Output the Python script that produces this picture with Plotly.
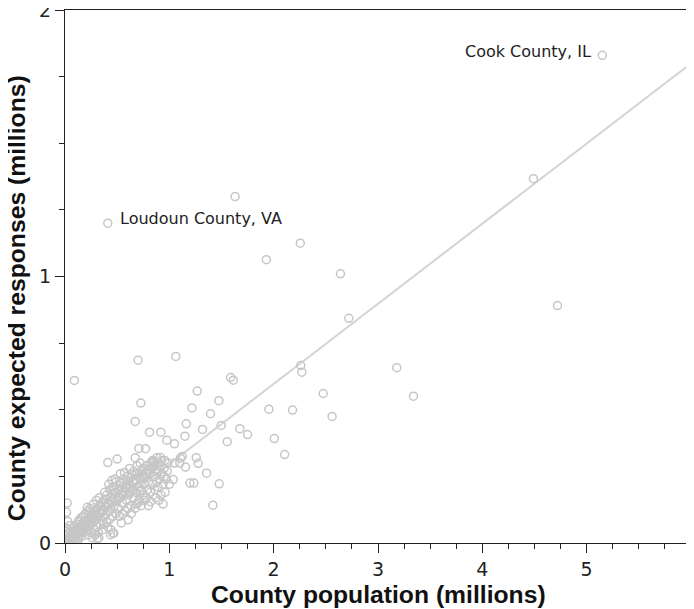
import plotly.graph_objects as go

# ---- Data (millions) ----
# Labelled / outlying counties
outlier_population = [5.15, 0.41, 1.63, 1.93, 2.255, 2.64, 4.49, 4.72, 2.72, 3.18, 3.34, 2.475,
                      2.56, 2.26, 2.27, 1.587, 1.613, 0.70, 1.062, 0.09, 1.267, 1.475, 1.216,
                      1.395, 1.162, 1.149, 1.318, 1.497, 1.676, 1.75, 1.555, 1.954, 2.181, 2.006,
                      2.105, 1.124, 1.258, 1.277, 1.155, 1.357, 1.235, 1.478, 1.417, 0.727, 0.673,
                      0.81, 0.919, 0.976, 1.05, 0.708, 0.772, 0.41, 0.50, 0.673, 0.839, 0.913,
                      1.107, 1.05, 1.037, 0.94, 0.80, 0.68, 0.635, 0.606, 0.458, 0.309, 0.213,
                      0.021, 0.014, 0.046, 0.132, 0.027, 0.014, 0.436, 0.468, 0.324]
outlier_responses = [1.83, 1.20, 1.30, 1.063, 1.125, 1.01, 1.367, 0.891, 0.843, 0.658, 0.551, 0.561,
                     0.475, 0.666, 0.641, 0.621, 0.611, 0.686, 0.70, 0.61, 0.570, 0.534, 0.507,
                     0.485, 0.447, 0.401, 0.426, 0.441, 0.429, 0.407, 0.380, 0.502, 0.499, 0.392,
                     0.332, 0.325, 0.320, 0.299, 0.285, 0.262, 0.225, 0.222, 0.142, 0.525, 0.456,
                     0.416, 0.416, 0.386, 0.372, 0.355, 0.354, 0.302, 0.315, 0.32, 0.306, 0.321,
                     0.319, 0.30, 0.238, 0.146, 0.14, 0.145, 0.11, 0.087, 0.037, 0.015, 0.134,
                     0.15, 0.115, 0.066, 0.081, 0.081, 0.044, 0.031, 0.037, 0.019]

# Dense cluster of smaller counties
cluster_population = [
    0.005, 0.01, 0.015, 0.02, 0.025, 0.03, 0.035, 0.04, 0.045, 0.05, 0.055, 0.06, 0.065, 0.07, 0.075,
    0.08, 0.085, 0.09, 0.095, 0.1, 0.012, 0.03, 0.05, 0.07, 0.09, 0.02, 0.04, 0.06, 0.08, 0.1,
    0.11, 0.12, 0.13, 0.14, 0.15, 0.16, 0.17, 0.18, 0.19, 0.2, 0.12, 0.14, 0.16, 0.18, 0.2,
    0.115, 0.135, 0.155, 0.175, 0.195, 0.22, 0.105, 0.125, 0.145, 0.165,
    0.21, 0.22, 0.23, 0.24, 0.25, 0.26, 0.27, 0.28, 0.29, 0.3, 0.31, 0.32, 0.33, 0.34, 0.35,
    0.22, 0.25, 0.28, 0.31, 0.34, 0.24, 0.27, 0.3, 0.33, 0.26, 0.29, 0.32, 0.35,
    0.36, 0.37, 0.38, 0.39, 0.4, 0.41, 0.42, 0.43, 0.44, 0.45, 0.46, 0.47, 0.48, 0.49, 0.5,
    0.37, 0.4, 0.43, 0.46, 0.49, 0.38, 0.42, 0.45, 0.48, 0.36, 0.41, 0.44, 0.39, 0.47,
    0.51, 0.52, 0.53, 0.54, 0.55, 0.56, 0.57, 0.58, 0.59, 0.6, 0.61, 0.62, 0.63, 0.64, 0.65,
    0.52, 0.55, 0.58, 0.6, 0.53, 0.57, 0.62, 0.54, 0.56, 0.59,
    0.66, 0.67, 0.68, 0.69, 0.7, 0.71, 0.72, 0.73, 0.74, 0.75, 0.76, 0.77, 0.78, 0.79, 0.8,
    0.67, 0.7, 0.73, 0.76, 0.69, 0.72, 0.75, 0.78, 0.66,
    0.81, 0.82, 0.83, 0.84, 0.85, 0.86, 0.87, 0.88, 0.89, 0.9, 0.91, 0.92, 0.93, 0.94, 0.95,
    0.82, 0.86, 0.9, 0.84, 0.88, 0.97, 0.96, 0.98, 1.0,
    0.82, 0.836, 0.794, 0.813, 1.10, 1.197, 0.628, 0.714, 0.532, 0.58,
    # extra density along the band
    0.015, 0.035, 0.055, 0.075, 0.095, 0.115, 0.145, 0.175, 0.205, 0.235, 0.265, 0.295,
    0.325, 0.355, 0.385, 0.415, 0.445, 0.475, 0.505, 0.535, 0.565, 0.595, 0.625, 0.655,
    0.685, 0.715, 0.745, 0.775, 0.805, 0.835, 0.865, 0.895, 0.925, 0.955, 0.985,
    0.25, 0.3, 0.35, 0.45, 0.55, 0.65, 0.75, 0.85, 0.95, 0.62, 0.72, 0.88]
cluster_responses = [
    0.002, 0.006, 0.003, 0.012, 0.006, 0.015, 0.009, 0.02, 0.011, 0.024, 0.015, 0.03, 0.018, 0.035, 0.022,
    0.04, 0.026, 0.045, 0.03, 0.05, 0.025, 0.035, 0.045, 0.055, 0.065, 0.055, 0.004, 0.008, 0.012, 0.018,
    0.035, 0.05, 0.028, 0.06, 0.04, 0.07, 0.045, 0.075, 0.05, 0.085, 0.02, 0.03, 0.025, 0.04, 0.06,
    0.07, 0.085, 0.095, 0.1, 0.11, 0.12, 0.01, 0.012, 0.045, 0.055,
    0.07, 0.05, 0.09, 0.065, 0.1, 0.075, 0.11, 0.085, 0.12, 0.09, 0.13, 0.1, 0.14, 0.11, 0.15,
    0.03, 0.04, 0.05, 0.06, 0.07, 0.13, 0.145, 0.16, 0.17, 0.02, 0.03, 0.04, 0.085,
    0.12, 0.16, 0.1, 0.14, 0.18, 0.12, 0.15, 0.2, 0.13, 0.17, 0.21, 0.14, 0.19, 0.23, 0.16,
    0.07, 0.08, 0.09, 0.1, 0.11, 0.19, 0.22, 0.235, 0.24, 0.05, 0.06, 0.05, 0.165, 0.2,
    0.13, 0.2, 0.17, 0.225, 0.15, 0.24, 0.19, 0.21, 0.16, 0.25, 0.18, 0.22, 0.14, 0.26, 0.2,
    0.1, 0.11, 0.12, 0.13, 0.26, 0.265, 0.28, 0.075, 0.18, 0.23,
    0.17, 0.23, 0.19, 0.26, 0.21, 0.16, 0.24, 0.2, 0.27, 0.18, 0.22, 0.25, 0.29, 0.2, 0.23,
    0.13, 0.15, 0.14, 0.16, 0.29, 0.3, 0.28, 0.17, 0.27,
    0.26, 0.19, 0.28, 0.22, 0.3, 0.25, 0.17, 0.27, 0.21, 0.29, 0.24, 0.18, 0.26, 0.22, 0.28,
    0.155, 0.2, 0.16, 0.31, 0.32, 0.24, 0.19, 0.27, 0.22,
    0.30, 0.287, 0.275, 0.262, 0.30, 0.225, 0.244, 0.262, 0.225, 0.212,
    0.008, 0.018, 0.022, 0.03, 0.038, 0.042, 0.05, 0.062, 0.07, 0.08, 0.095, 0.105,
    0.115, 0.125, 0.135, 0.145, 0.155, 0.165, 0.175, 0.185, 0.195, 0.205, 0.215, 0.225,
    0.235, 0.245, 0.255, 0.265, 0.275, 0.285, 0.295, 0.3, 0.31, 0.31, 0.3,
    0.115, 0.125, 0.125, 0.185, 0.205, 0.235, 0.245, 0.285, 0.25, 0.19, 0.195, 0.23]

# Linear fit
fit_population = [0.0, 6.0]
fit_responses = [-0.005, 1.80]

# Labels
label_names = ["Cook County, IL", "Loudoun County, VA"]
label_population = [5.15, 0.41]
label_responses = [1.83, 1.20]

x_ticks = [0, 1, 2, 3, 4, 5, 6]
y_ticks = [0, 1, 2]

all_pop = cluster_population + outlier_population
all_resp = cluster_responses + outlier_responses

MARK = "rgb(198,198,198)"
LINE = "rgb(212,212,212)"

fig = go.Figure()
fig.add_trace(go.Scatter(x=fit_population, y=fit_responses, mode="lines",
                         line=dict(color=LINE, width=2), hoverinfo="skip", showlegend=False))
fig.add_trace(go.Scatter(x=all_pop, y=all_resp, mode="markers",
                         marker=dict(symbol="circle-open", size=8, color=MARK,
                                     line=dict(width=1.5, color=MARK)),
                         showlegend=False))

tickfont = dict(family="DejaVu Sans", size=19, color="#222")
axis_common = dict(showgrid=False, zeroline=False, showline=True, linecolor="#222",
                   linewidth=1.3, mirror=True, ticks="outside", ticklen=9, tickwidth=1.3,
                   tickcolor="#222", tickfont=tickfont, automargin=False,
                   ticklabeloverflow="allow")

fig.update_xaxes(range=[0, 6], tickvals=x_ticks, ticktext=[str(v) for v in x_ticks],
                 minor=dict(ticks="outside", ticklen=5, tickwidth=1.1, tickcolor="#222", dtick=0.25),
                 **axis_common)
fig.update_yaxes(range=[0, 2], tickvals=y_ticks, ticktext=[str(v) for v in y_ticks],
                 minor=dict(ticks="outside", ticklen=5, tickwidth=1.1, tickcolor="#222", dtick=0.25),
                 **axis_common)

annots = []
# point labels
annots.append(dict(x=label_population[0], y=label_responses[0], text=label_names[0],
                   xref="x", yref="y", showarrow=False, xanchor="right", yanchor="middle",
                   xshift=-9, yshift=4, font=dict(family="DejaVu Sans", size=16, color="#222")))
annots.append(dict(x=label_population[1], y=label_responses[1], text=label_names[1],
                   xref="x", yref="y", showarrow=False, xanchor="left", yanchor="middle",
                   xshift=10, yshift=5, font=dict(family="DejaVu Sans", size=16, color="#222")))
# axis titles
title_font = dict(family="Liberation Sans", size=24.7, color="#111", weight="bold")
annots.append(dict(x=0.5, y=-0.096, xref="paper", yref="paper", showarrow=False,
                   text="County population (millions)", xanchor="center", yanchor="middle",
                   font=title_font))
annots.append(dict(x=-0.077, y=0.459, xref="paper", yref="paper", showarrow=False,
                   text="County expected responses (millions)", textangle=-90,
                   xanchor="center", yanchor="middle", font=title_font))

# page body has an 8px margin, so the figure is sized to fit the 694x609 window
fig.update_layout(width=686, height=601, margin=dict(l=57, r=3, t=2, b=66),
                  plot_bgcolor="white", paper_bgcolor="white", annotations=annots,
                  template="none")

fig.write_html("out.html")
